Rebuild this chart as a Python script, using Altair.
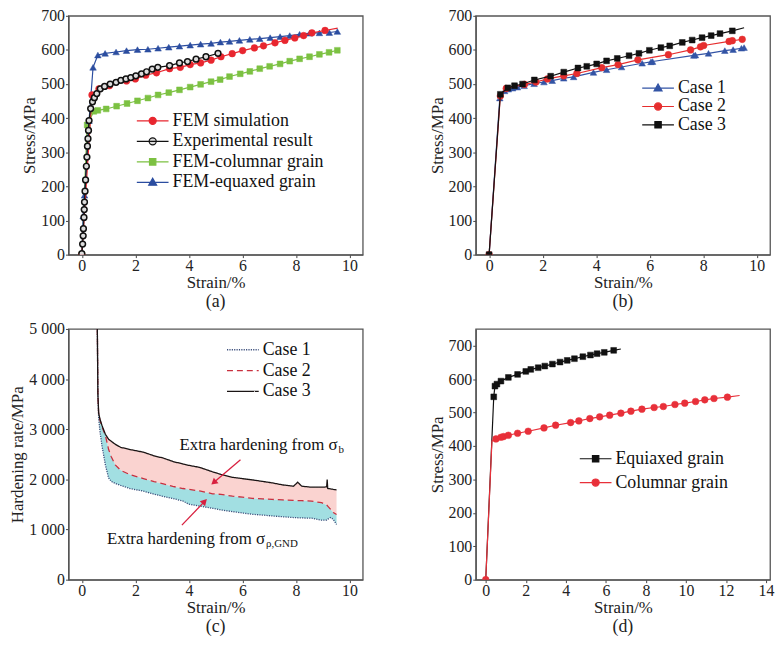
import altair as alt
import pandas as pd

FONT = "Liberation Serif"

# ---------------- panel (a) ----------------
a_names = ["FEM simulation", "Experimental result", "FEM-columnar grain", "FEM-equaxed grain"]
a_fem_x = [0, 0.38, 0.64, 1.03, 1.67, 2.0, 2.39, 2.79, 3.28, 3.68, 4.05, 4.44, 4.83, 5.2, 5.62, 6.01, 6.45, 6.79, 7.22, 7.59, 7.96, 8.29, 8.6, 9.09, 9.56]
a_fem_y = [0, 468, 486, 495, 509, 515, 526, 533, 545, 549, 557, 562, 570, 580, 589, 598, 606, 612, 621, 628, 635, 642, 650, 657, 664]
a_exp_x = [0.0, 0.03, 0.05, 0.06, 0.08, 0.09, 0.1, 0.12, 0.14, 0.17, 0.19, 0.21, 0.23, 0.25, 0.27, 0.33, 0.4, 0.47, 0.56, 0.69, 0.85, 1.06, 1.28, 1.46, 1.65, 1.83, 2.02, 2.23, 2.42, 2.63, 2.84, 3.28, 3.65, 3.95, 4.27, 4.64, 5.09]
a_exp_y = [3, 31, 55, 76, 109, 132, 154, 186, 219, 259, 286, 318, 340, 364, 393, 428, 448, 460, 472, 486, 493, 500, 505, 511, 515, 519, 524, 530, 536, 544, 549, 554, 562, 566, 573, 580, 590]
a_col_x = [0, 0.2, 0.45, 0.6, 0.91, 1.3, 1.69, 2.08, 2.47, 2.85, 3.25, 3.65, 4.05, 4.44, 4.83, 5.17, 5.52, 5.92, 6.28, 6.65, 7.02, 7.41, 7.77, 8.14, 8.51, 8.88, 9.24, 9.55]
a_col_y = [0, 380, 420, 423, 427, 435, 443, 451, 459, 468, 475, 483, 491, 499, 507, 513, 522, 530, 537, 545, 552, 559, 567, 574, 580, 587, 593, 599]
a_equ_x = [0, 0.05, 0.1, 0.27, 0.42, 0.6, 0.87, 1.28, 1.67, 2.08, 2.47, 2.85, 3.25, 3.65, 4.05, 4.44, 4.83, 5.18, 5.52, 5.89, 6.28, 6.65, 7.04, 7.41, 7.77, 8.14, 8.52, 8.88, 9.25, 9.55]
a_equ_y = [0, 113, 174, 393, 549, 585, 590, 594, 598, 601, 602, 605, 608, 611, 614, 617, 619, 623, 625, 628, 631, 633, 636, 639, 642, 646, 649, 650, 651, 654]

# ---------------- panel (b) ----------------
b_names = ["Case 1", "Case 2", "Case 3"]
b_c1_x = [0, 0.4, 0.58, 0.72, 0.88, 1.06, 1.31, 1.68, 2.05, 2.36, 2.79, 3.16, 3.9, 4.39, 4.95, 5.72, 6.05, 6.11, 7.65, 7.71, 8.2, 8.81, 9.12, 9.43, 9.53]
b_c1_y = [0, 459, 480, 485, 488, 491, 495, 501, 506, 510, 517, 521, 534, 542, 550, 561, 565, 566, 584, 585, 590, 598, 601, 605, 607]
b_c2_x = [0, 0.42, 0.64, 1.32, 1.75, 2.18, 2.79, 3.28, 4.21, 4.82, 5.56, 6.7, 7.53, 7.9, 8.02, 8.97, 9.09, 9.46]
b_c2_y = [0, 465, 487, 499, 506, 515, 524, 531, 548, 557, 571, 586, 600, 609, 613, 625, 627, 631]
b_c3_x = [0, 0.42, 0.7, 0.95, 1.25, 1.69, 2.3, 2.79, 3.32, 3.65, 4.02, 4.39, 4.79, 5.23, 5.6, 5.99, 6.42, 6.75, 7.22, 7.59, 7.96, 8.3, 8.63, 9.09, 9.53]
b_c3_y = [0, 470, 489, 495, 500, 512, 523, 535, 547, 552, 559, 568, 575, 583, 590, 599, 607, 612, 622, 629, 636, 642, 648, 656, 665]

# ---------------- panel (c) ----------------
c_names = ["Case 1", "Case 2", "Case 3"]
c_x = [0.58, 0.6, 0.63, 0.68, 0.75, 0.88, 1.0, 1.1, 1.25, 1.45, 1.8, 2.3, 2.7, 3.05, 3.4, 3.78, 4.0, 4.4, 4.89, 5.2,
       5.63, 6.0, 6.37, 6.75, 7.11, 7.5, 7.91, 8.07, 8.22, 8.59, 8.96, 9.15, 9.17, 9.19, 9.3, 9.4, 9.52]
c_case3 = [5000, 3700, 3320, 3200, 3080, 2900, 2800, 2760, 2700, 2640, 2595, 2543, 2470, 2424, 2358, 2306, 2280, 2240, 2150, 2100,
           2042, 2015, 1990, 1960, 1931, 1890, 1864, 1943, 1864, 1844, 1844, 1850, 1996, 1820, 1810, 1800, 1790]
c_case2 = [5000, 3700, 3280, 3180, 3050, 2880, 2600, 2450, 2290, 2180, 2095, 2016, 1955, 1910, 1860, 1818, 1800, 1770, 1713, 1700,
           1666, 1645, 1621, 1610, 1601, 1590, 1581, 1578, 1575, 1567, 1535, 1490, 1480, 1468, 1400, 1338, 1300]
c_case1 = [5000, 3700, 3215, 2950, 2680, 2290, 2030, 1960, 1920, 1880, 1818, 1765, 1705, 1660, 1620, 1567, 1505, 1468, 1423, 1390,
           1357, 1330, 1304, 1288, 1271, 1255, 1239, 1235, 1232, 1225, 1186, 1190, 1200, 1206, 1239, 1200, 1100]
c_notes = ["Extra hardening from σ", "Extra hardening from σ"]
c_note_subs = ["b", "ρ,GND"]
c_note_x = [9.56, 6.85]
c_note_y = [2690, 810]
c_arrow_x = [5.93, 3.74]
c_arrow_y = [2391, 1087]
c_arrow_x2 = [4.93, 4.59]
c_arrow_y2 = [1937, 1561]
c_arrow_angle = [230, 44]

# ---------------- panel (d) ----------------
d_names = ["Equiaxed grain", "Columnar grain"]
d_equ_x = [0, 0.4, 0.46, 0.56, 0.76, 1.13, 1.59, 2.0, 2.25, 2.62, 2.95, 3.33, 3.71, 4.07, 4.43, 4.85, 5.23, 5.56, 5.92, 6.39, 6.75]
d_equ_y = [0, 547, 579, 585, 594, 605, 614, 623, 629, 634, 639, 645, 651, 656, 661, 667, 672, 676, 680, 686, 690]
d_col_x = [0, 0.31, 0.51, 0.76, 0.89, 1.13, 1.59, 2.12, 2.91, 3.49, 4.24, 4.65, 5.2, 5.69, 6.19, 6.75, 7.25, 7.8, 8.41, 8.87, 9.45, 9.94, 10.48, 10.94, 11.4, 12.07, 12.68]
d_col_y = [0, 415, 421, 426, 428, 432, 438, 444, 454, 462, 470, 475, 482, 487, 492, 498, 504, 510, 515, 518, 524, 528, 533, 538, 542, 546, 551]

# legend symbol paths (line + marker)
P_CIRCLE = "M-2,0H2M0.45,0A0.45,0.45,0,1,1,-0.45,0A0.45,0.45,0,1,1,0.45,0Z"
P_SQUARE = "M-2,0H2M-0.4,-0.4H0.4V0.4H-0.4Z"
P_TRI = "M-2,0H2M0,-0.52L0.5,0.36H-0.5Z"

TXT = 18    # legend / title size
ATXT = 17   # axis title size
TICK = 16   # tick label size


def xy_df(xs, ys, nomark=()):
    return pd.DataFrame({"x": xs, "y": ys, "i": list(range(len(xs))),
                         "m": [0 if k in nomark else 1 for k in range(len(xs))]})


def enc_xy(xdom, xticks, ydom, yticks, ytitle, lexpr=None):
    yaxis = dict(values=yticks, title=ytitle, titlePadding=2, labelPadding=1)
    if lexpr:
        yaxis["labelExpr"] = lexpr
    X = alt.X("x:Q", scale=alt.Scale(domain=xdom, nice=False, zero=False),
              axis=alt.Axis(values=xticks, title="Strain/%", labelPadding=0, titlePadding=1))
    Y = alt.Y("y:Q", scale=alt.Scale(domain=ydom, nice=False, zero=False), axis=alt.Axis(**yaxis))
    return X, Y


def panel_title(t):
    return alt.TitleParams(t, orient="bottom", font=FONT, fontSize=TXT, fontWeight="normal",
                           anchor="middle", frame="group", offset=3, color="#222")


def make_legend(lx, ly, rowpad):
    return alt.Legend(orient="none", legendX=lx, legendY=ly, title=None, symbolSize=256,
                      symbolStrokeWidth=1.2, labelFont=FONT, labelFontSize=TXT, labelColor="#111",
                      labelOffset=11, rowPadding=rowpad, symbolOpacity=1)


def stress_panel(series, legend_order, xdom, xticks, ydom, yticks, lx, ly, rowpad, title, w, h):
    X, Y = enc_xy(xdom, xticks, ydom, yticks, "Stress/MPa")
    layers = []
    for s in series:
        base = alt.Chart(xy_df(s["x"], s["y"], s["nomark"]))
        layers.append(base.mark_line(color=s["stroke"], strokeWidth=1.2, clip=True)
                      .encode(x=X, y=Y, order="i:Q"))
        layers.append(base.transform_filter("datum.m == 1")
                      .mark_point(shape=s["shape"], filled=True, fill=s["fill"], stroke=s["stroke"],
                                  strokeWidth=s["sw"], size=s["size"], opacity=1, clip=True)
                      .encode(x=X, y=Y))
    by_name = {s["name"]: s for s in series}
    names = legend_order
    leg = make_legend(lx, ly, rowpad)
    leg_df = pd.DataFrame({"series": names})
    legend_layer = alt.Chart(leg_df).mark_point(size=0, filled=True, strokeWidth=1.2).encode(
        fill=alt.Fill("series:N", scale=alt.Scale(domain=names, range=[by_name[n]["fill"] for n in names]), legend=leg),
        stroke=alt.Stroke("series:N", scale=alt.Scale(domain=names, range=[by_name[n]["stroke"] for n in names]), legend=leg),
        shape=alt.Shape("series:N", scale=alt.Scale(domain=names, range=[by_name[n]["path"] for n in names]), legend=leg),
    )
    layers.append(legend_layer)
    return alt.layer(*layers).properties(width=w, height=h, title=panel_title(title))


RED_A = "#E8262F"
GREEN = "#7CC142"
BLUE = "#2B4DA0"
BLACK = "#111111"

pa = stress_panel([
    dict(name=a_names[2], x=a_col_x, y=a_col_y, nomark=(), stroke=GREEN, fill=GREEN, shape="square", size=34, sw=0.5, path=P_SQUARE),
    dict(name=a_names[3], x=a_equ_x, y=a_equ_y, nomark=(), stroke=BLUE, fill=BLUE, shape="triangle-up", size=44, sw=0.5, path=P_TRI),
    dict(name=a_names[0], x=a_fem_x, y=a_fem_y, nomark=(len(a_fem_x) - 1,), stroke=RED_A, fill=RED_A, shape="circle", size=46, sw=0.5, path=P_CIRCLE),
    dict(name=a_names[1], x=a_exp_x, y=a_exp_y, nomark=(), stroke=BLACK, fill="#dddddd", shape="circle", size=34, sw=1.5, path=P_CIRCLE),
], a_names, [-0.5, 10.5], [0, 2, 4, 6, 8, 10], [0, 700], list(range(0, 701, 100)), 76, 97, 2.7, "(a)", 297, 241)

BLUE_B = "#3354A5"
RED_B = "#E62E2E"
pb = stress_panel([
    dict(name=b_names[0], x=b_c1_x, y=b_c1_y, nomark=(), stroke=BLUE_B, fill=BLUE_B, shape="triangle-up", size=44, sw=0.5, path=P_TRI),
    dict(name=b_names[1], x=b_c2_x, y=b_c2_y, nomark=(), stroke=RED_B, fill=RED_B, shape="circle", size=46, sw=0.5, path=P_CIRCLE),
    dict(name=b_names[2], x=b_c3_x, y=b_c3_y, nomark=(len(b_c3_x) - 1,), stroke=BLACK, fill=BLACK, shape="square", size=34, sw=0.5, path=P_SQUARE),
], b_names, [-0.5, 10.5], [0, 2, 4, 6, 8, 10], [0, 700], list(range(0, 701, 100)), 175, 64, 0.5, "(b)", 297, 241)

RED_D = "#E8303A"
pd_ = stress_panel([
    dict(name=d_names[0], x=d_equ_x, y=d_equ_y, nomark=(0, len(d_equ_x) - 1), stroke=BLACK, fill=BLACK, shape="square", size=34, sw=0.5, path=P_SQUARE),
    dict(name=d_names[1], x=d_col_x, y=d_col_y, nomark=(1, len(d_col_x) - 1), stroke=RED_D, fill=RED_D, shape="circle", size=46, sw=0.5, path=P_CIRCLE),
], d_names, [-0.5, 14.2], list(range(0, 15, 2)), [0, 750], list(range(0, 701, 100)), 112, 122, 6, "(d)", 297, 253)

# ---------------- build panel (c) ----------------
c_wide = pd.DataFrame({"x": c_x, "c1": c_case1, "c2": c_case2, "c3": c_case3})
c_long = pd.concat([
    pd.DataFrame({"x": c_x, "y": c_case1, "series": c_names[0]}),
    pd.DataFrame({"x": c_x, "y": c_case2, "series": c_names[1]}),
    pd.DataFrame({"x": c_x, "y": c_case3, "series": c_names[2]}),
])
cX, cY = enc_xy([-0.5, 10.5], [0, 2, 4, 6, 8, 10], [0, 5000], list(range(0, 5001, 1000)),
                "Hardening rate/MPa", "replace(format(datum.value, ','), ',', ' ')")
c_pink = alt.Chart(c_wide).mark_area(color="#FAD3D0", opacity=1, clip=True).encode(
    x=cX, y=alt.Y("c3:Q", scale=alt.Scale(domain=[0, 5000], nice=False)), y2="c2:Q")
c_cyan = alt.Chart(c_wide).mark_area(color="#A2DFE2", opacity=1, clip=True).encode(
    x=cX, y=alt.Y("c2:Q", scale=alt.Scale(domain=[0, 5000], nice=False)), y2="c1:Q")
c_leg = alt.Legend(orient="none", legendX=167, legendY=12, title=None, symbolType="M-4,0H4", symbolSize=64,
                   symbolStrokeWidth=1.3, labelFont=FONT, labelFontSize=TXT, labelColor="#111",
                   labelOffset=11, rowPadding=3)
c_lines = alt.Chart(c_long).mark_line(strokeWidth=1.3, clip=True).encode(
    x=cX, y=cY,
    stroke=alt.Stroke("series:N", scale=alt.Scale(domain=c_names, range=["#3c4f7c", "#C9303F", "#1a1414"]), legend=c_leg),
    strokeDash=alt.StrokeDash("series:N", scale=alt.Scale(domain=c_names, range=[[1.2, 1.2], [6, 4], [1, 0]]), legend=c_leg),
)
arrows = pd.DataFrame({"x": c_arrow_x, "y": c_arrow_y, "x2": c_arrow_x2, "y2": c_arrow_y2, "ang": c_arrow_angle})
c_arrow_lines = alt.Chart(arrows).mark_rule(color="#D8203F", strokeWidth=1.3).encode(
    x=alt.X("x:Q"), y=alt.Y("y:Q"), x2="x2:Q", y2="y2:Q")
c_arrow_heads = alt.Chart(arrows).mark_point(shape="triangle-up", filled=True, color="#D8203F", size=55, opacity=1).encode(
    x=alt.X("x2:Q"), y=alt.Y("y2:Q"), angle=alt.Angle("ang:Q", scale=None))
notes = pd.DataFrame({"x": c_note_x, "y": c_note_y, "t": c_notes, "s": c_note_subs})
c_text = alt.Chart(notes).mark_text(align="right", baseline="middle", font=FONT, fontSize=17, color="#111").encode(
    x="x:Q", y="y:Q", text="t:N")
c_sub = alt.Chart(notes).mark_text(align="left", baseline="middle", font=FONT, fontSize=11, color="#111", dx=1, dy=5).encode(
    x="x:Q", y="y:Q", text="s:N")
pc = alt.layer(c_pink, c_cyan, c_lines, c_arrow_lines, c_arrow_heads, c_text, c_sub).properties(
    width=297, height=253, title=panel_title("(c)"))

chart = alt.concat(pa, pb, pc, pd_, columns=2, spacing={"row": 75, "column": 114}, bounds="flush").resolve_scale(
    fill="independent", stroke="independent", shape="independent", strokeDash="independent",
    x="independent", y="independent"
).resolve_legend(
    fill="independent", stroke="independent", shape="independent", strokeDash="independent"
).properties(
    padding={"left": 0, "top": -4, "right": 0, "bottom": 0}
).configure_view(stroke="#555555", strokeWidth=1.3).configure_axis(
    labelFont=FONT, labelFontSize=TICK, labelColor="#222", titleFont=FONT, titleFontSize=ATXT,
    titleFontWeight="normal", titleColor="#222", grid=False, tickSize=3, tickColor="#444",
    domainColor="#555555", domainWidth=1.3
)

chart.save("out.html", embed_options={"renderer": "svg", "actions": False})
